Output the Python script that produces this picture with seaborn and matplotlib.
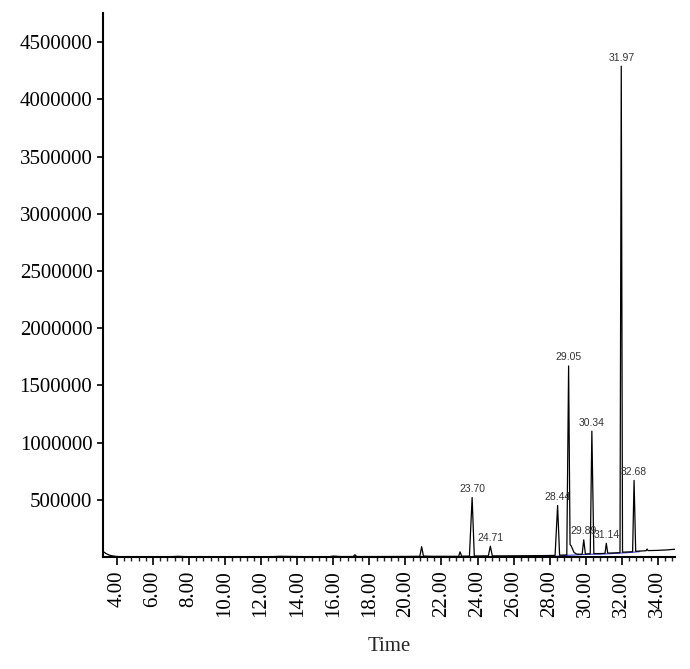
import numpy as np
import pandas as pd
import matplotlib.pyplot as plt
import seaborn as sns

# chromatogram trace (time in min, abundance)
trace_time = [3.22, 3.4, 3.6, 3.9, 4.3, 5.0, 6.0, 7.0, 7.4, 7.8, 9.0, 11.0, 12.6, 13.0, 14.5,
              15.8, 16.0, 16.4, 17.1, 17.2, 17.3, 18.5, 20.0, 20.8, 20.9, 21.0, 21.5, 22.5,
              22.95, 23.03, 23.12, 23.55, 23.70, 23.82, 24.0, 24.6, 24.71, 24.82, 25.5,
              26.5, 27.5, 28.3, 28.44, 28.55, 28.95, 29.05, 29.13, 29.2, 29.35, 29.5, 29.8,
              29.89, 29.98, 30.25, 30.34, 30.45, 30.8, 31.07, 31.14, 31.22, 31.6, 31.9, 31.97,
              32.04, 32.3, 32.6, 32.68, 32.77, 33.0, 33.35, 33.4, 33.45, 34.0, 34.5, 34.94]
trace_signal = [50000, 30000, 15000, 6000, 2000, 1500, 2000, 3000, 6000, 3000, 2000, 2000, 3000, 6000, 3000,
                3000, 8000, 4000, 4000, 20000, 4000, 4000, 5000, 6000, 90000, 8000, 6000, 6000,
                6000, 45000, 7000, 8000, 520000, 9000, 9000, 10000, 95000, 10000, 10000,
                11000, 12000, 14000, 450000, 16000, 18000, 1670000, 110000, 95000, 40000, 25000, 24000,
                150000, 26000, 28000, 1100000, 30000, 30000, 32000, 120000, 34000, 36000, 38000, 4290000,
                42000, 44000, 46000, 670000, 50000, 52000, 55000, 70000, 56000, 58000, 62000, 68000]

# integration baseline (blue)
base_time = [28.3, 28.6, 29.0, 29.7, 30.2, 31.0, 31.8, 32.5, 33.0]
base_signal = [6000, 9000, 15000, 20000, 24000, 26000, 33000, 40000, 47000]

# labelled peaks
peak_labels = ["23.70", "24.71", "28.44", "29.05", "29.89", "30.34", "31.14", "31.97", "32.68"]
peak_time = [23.70, 24.71, 28.44, 29.05, 29.89, 30.34, 31.14, 31.97, 32.68]
peak_height = [520000, 95000, 450000, 1670000, 150000, 1100000, 120000, 4290000, 670000]

df = pd.DataFrame({"time": trace_time, "signal": trace_signal})
base = pd.DataFrame({"time": base_time, "signal": base_signal})

sns.set_style("ticks")
plt.rcParams['font.family'] = ['Liberation Serif', 'DejaVu Serif']

fig = plt.figure(figsize=(6.9, 6.69), dpi=100)
ax = fig.add_axes([0.149, 0.1674, 0.829, 0.8132])

sns.lineplot(data=base, x="time", y="signal", ax=ax, color="#3b3bdc", linewidth=0.8)
sns.lineplot(data=df, x="time", y="signal", ax=ax, color="black", linewidth=0.9)

for lab, t, h in zip(peak_labels, peak_time, peak_height):
    ax.annotate(lab, (t, h), xytext=(0, 2.5), textcoords="offset points",
                ha="center", va="bottom", fontsize=7.5, color="#333333",
                family=["Liberation Sans", "DejaVu Sans"])

ax.set_xlim(3.22, 34.94)
ax.set_ylim(0, 4755000)
ax.set_xticks(np.arange(4, 35, 2))
ax.set_xticks(np.arange(4, 35, 0.4), minor=True)
ax.set_xticklabels([f"{v:.2f}" for v in np.arange(4, 35, 2)], rotation=90)
ax.set_yticks(np.arange(500000, 4500001, 500000))
ax.set_yticklabels([str(v) for v in range(500000, 4500001, 500000)])
ax.tick_params(axis="both", labelsize=15, colors="black", width=1.2)
ax.tick_params(axis="x", which="major", length=6)
ax.tick_params(axis="x", which="minor", length=3, width=1)
ax.tick_params(axis="y", length=4)

ax.set_xlabel("Time", fontsize=15, labelpad=14)
ax.set_ylabel("")
sns.despine(ax=ax)
for s in ["left", "bottom"]:
    ax.spines[s].set_linewidth(1.5)
    ax.spines[s].set_color("black")

fig.savefig("out.png", dpi=100)
